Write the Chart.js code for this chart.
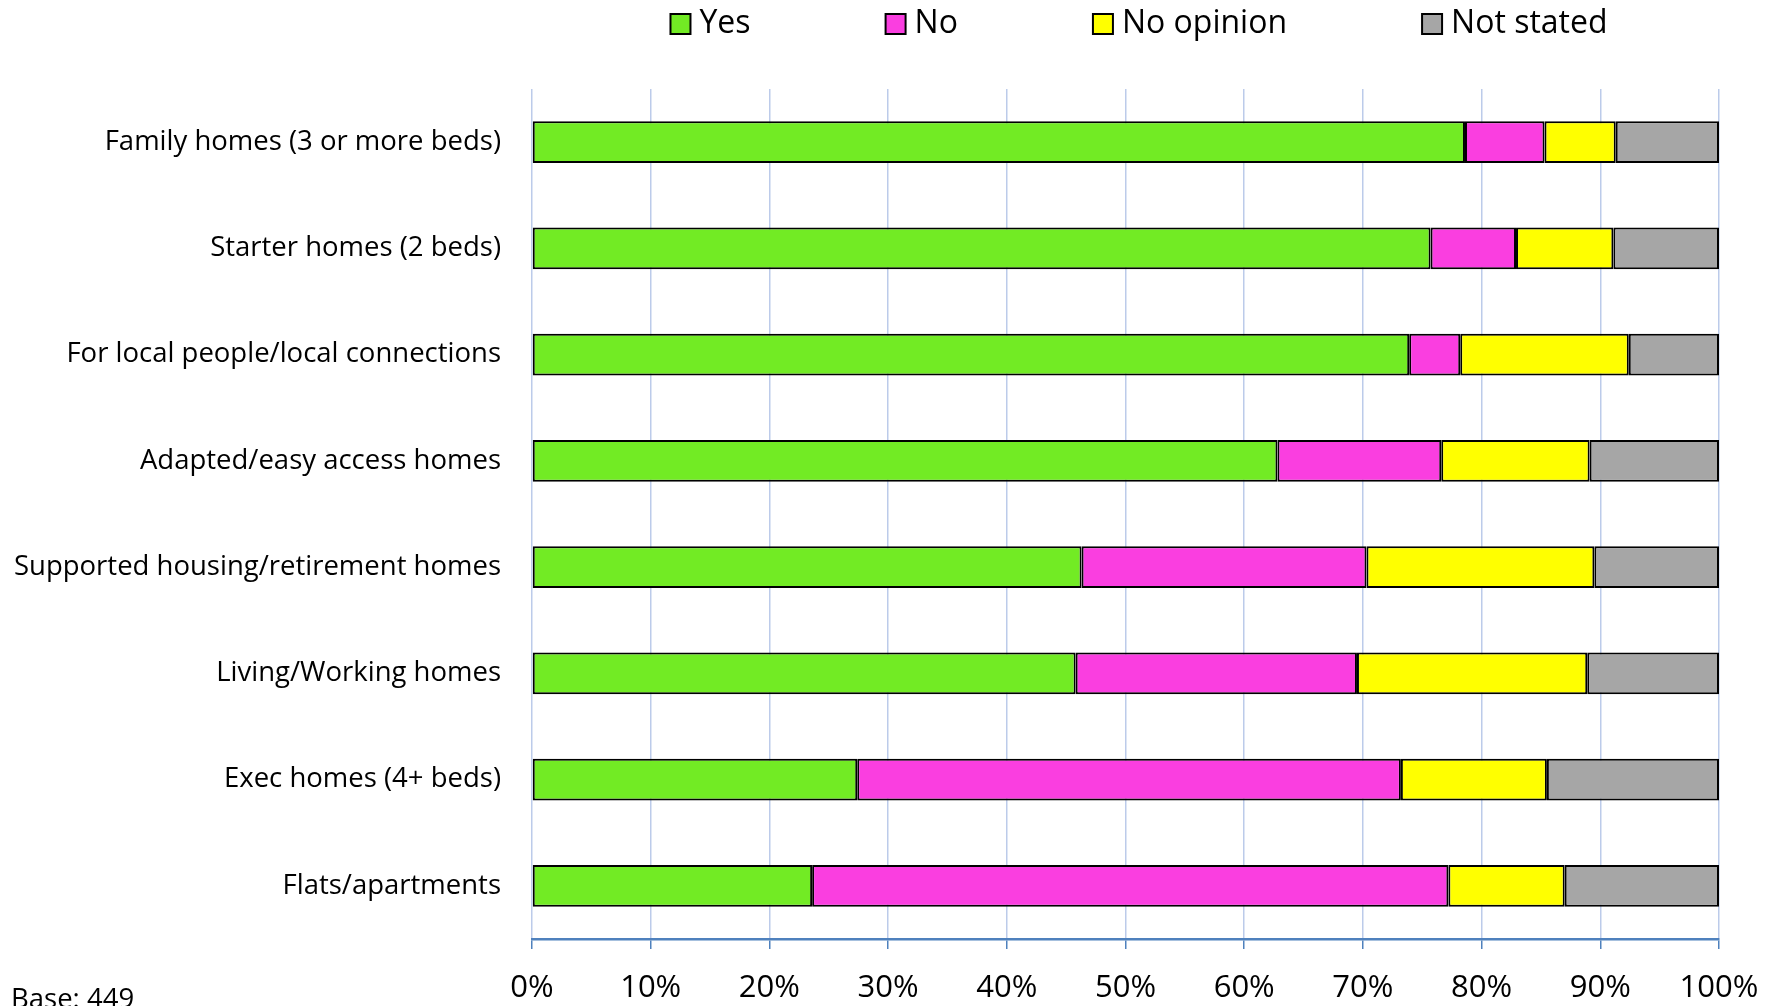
<!DOCTYPE html>
<html>
<head>
<meta charset="utf-8">
<script src="https://cdn.jsdelivr.net/npm/chart.js@4.4.1/dist/chart.umd.min.js"></script>
<style>
    html, body { margin: 0; padding: 0; background: #fff; }
    #wrap { width: 1781px; height: 1006px; position: relative; }
</style>
</head>
<body>
<div id="wrap"><canvas id="chart"></canvas></div>
<script>
// housing types, top to bottom
var categories = [
    'Family homes (3 or more beds)',
    'Starter homes (2 beds)',
    'For local people/local connections',
    'Adapted/easy access homes',
    'Supported housing/retirement homes',
    'Living/Working homes',
    'Exec homes (4+ beds)',
    'Flats/apartments'
];

// percent of respondents
var yesValues       = [78.6, 75.7, 73.9, 62.8, 46.3, 45.8, 27.4, 23.6];
var noValues        = [6.7, 7.2, 4.3, 13.8, 24.0, 23.7, 45.8, 53.6];
var noOpinionValues = [6.0, 8.2, 14.2, 12.5, 19.2, 19.4, 12.3, 9.8];
var notStatedValues = [8.7, 8.9, 7.6, 10.9, 10.5, 11.1, 14.5, 13.0];

var seriesNames = ['Yes', 'No', 'No opinion', 'Not stated'];
var xTicks = [0, 10, 20, 30, 40, 50, 60, 70, 80, 90, 100];
var baseNote = 'Base: 449';

var colours = ['#72eb24', '#fa3ee0', '#ffff00', '#a6a6a6'];
var fontFamily = '"Open Sans", sans-serif';

function makeDataset(name, values, colour) {
    return {
        label: name,
        data: values,
        backgroundColor: colour,
        borderColor: '#000',
        borderWidth: 2,
        borderSkipped: false,
        barPercentage: 0.395,
        categoryPercentage: 1
    };
}

// legend drawn by hand, Excel spaces the items wider than chart.js can
var legendPlugin = {
    id: 'wideLegend',
    afterDraw: function (chart) {
        var ctx = chart.ctx;
        var box = 20, gapText = 9, gapItem = 135;
        ctx.save();
        ctx.font = '32px ' + fontFamily;
        var total = 0;
        var widths = chart.data.datasets.map(function (ds) {
            var w = ctx.measureText(ds.label).width;
            total += box + gapText + w;
            return w;
        });
        total += gapItem * (widths.length - 1);
        var x = 1139 - total / 2;
        var y = 24;
        ctx.textBaseline = 'middle';
        chart.data.datasets.forEach(function (ds, i) {
            ctx.fillStyle = ds.backgroundColor;
            ctx.fillRect(x, y - box / 2, box, box);
            ctx.lineWidth = 2;
            ctx.strokeStyle = '#000';
            ctx.strokeRect(x, y - box / 2, box, box);
            ctx.fillStyle = '#000';
            ctx.fillText(ds.label, x + box + gapText, y);
            x += box + gapText + widths[i] + gapItem;
        });
        ctx.restore();
    }
};

var notePlugin = {
    id: 'baseNote',
    afterDraw: function (chart) {
        var ctx = chart.ctx;
        ctx.save();
        ctx.font = '27.5px ' + fontFamily;
        ctx.fillStyle = '#000';
        ctx.textBaseline = 'alphabetic';
        ctx.fillText(baseNote, 11, 1008);
        ctx.restore();
    }
};

var ctx = document.getElementById('chart').getContext('2d');
var chart = new Chart(ctx, {
    type: 'bar',
    data: {
        labels: categories,
        datasets: [
            makeDataset(seriesNames[0], yesValues, colours[0]),
            makeDataset(seriesNames[1], noValues, colours[1]),
            makeDataset(seriesNames[2], noOpinionValues, colours[2]),
            makeDataset(seriesNames[3], notStatedValues, colours[3])
        ]
    },
    options: {
        indexAxis: 'y',
        responsive: true,
        maintainAspectRatio: false,
        animation: false,
        layout: {
            padding: { left: 0, right: 62, top: 89, bottom: 0 }
        },
        plugins: {
            legend: { display: false },
            tooltip: { enabled: false }
        },
        scales: {
            x: {
                stacked: true,
                min: 0,
                max: 100,
                afterBuildTicks: function (scale) {
                    scale.ticks = xTicks.map(function (v) { return { value: v }; });
                },
                afterFit: function (scale) { scale.height = 67; },
                grid: {
                    color: '#bccbea',
                    lineWidth: 1.5,
                    tickColor: '#4f81bd',
                    tickLength: 10
                },
                border: { color: '#4f81bd', width: 2.5 },
                ticks: {
                    color: '#000',
                    padding: 21,
                    font: { family: fontFamily, size: 31 },
                    callback: function (v) { return v + '%'; }
                }
            },
            y: {
                stacked: true,
                afterFit: function (scale) { scale.width = 532; },
                grid: { display: false },
                border: { display: false },
                ticks: {
                    color: '#000',
                    padding: 23,
                    font: { family: fontFamily, size: 27.5 }
                }
            }
        }
    },
    plugins: [legendPlugin, notePlugin]
});
</script>
</body>
</html>
